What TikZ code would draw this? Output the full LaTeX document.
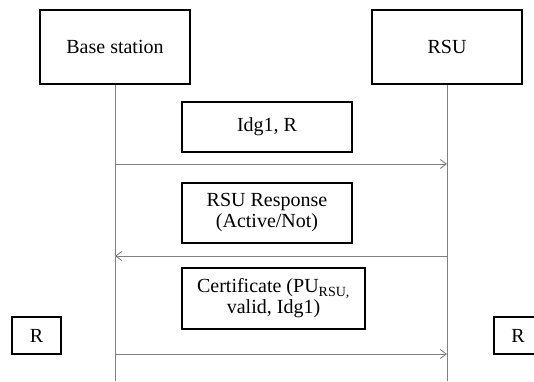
\documentclass[tikz,border=0pt]{standalone}
\usepackage{fontspec}
\setmainfont{Liberation Serif}
\usetikzlibrary{arrows.meta}
\begin{document}
\begin{tikzpicture}[x=1pt,y=-1pt,
  box/.style={draw=black, line width=2pt, fill=white, align=center, inner sep=0pt,
    font=\fontsize{20}{21}\selectfont},
  life/.style={draw=black!50, line width=1pt},
  msg/.style={draw=black!50, line width=1pt, -{Straight Barb[length=6pt,width=9pt,line width=0.9pt]}}]
\useasboundingbox (0,0) rectangle (534,381);
\node[box, minimum width=150pt, minimum height=74pt] (bs) at (115,47) {Base station};
\node[box, minimum width=150pt, minimum height=74pt] (rsu) at (447,47) {RSU};
\coordinate (bsend) at (115,381);
\coordinate (rsuend) at (447,381);
\draw[life] (bs.south) -- (bsend);
\draw[life] (rsu.south) -- (rsuend);
\node[box, minimum width=170pt, minimum height=50pt] (m1) at (267,127) {Idg1, R};
\node[box, minimum width=170pt, minimum height=60pt] (m2) at (267,213) {RSU Response\\(Active/Not)};
\node[box, minimum width=183pt, minimum height=61pt] (m3) at (273.5,298.5) {Certificate (PU\textsubscript{RSU,}\\valid, Idg1)};
\node[box, minimum width=49pt, minimum height=37pt] (rl) at (36.5,335.5) {R};
\node[box, minimum width=48pt, minimum height=37pt] (rr) at (518,335.5) {R};
\coordinate (a1s) at (115,164);
\coordinate (a1e) at (447,164);
\coordinate (a2s) at (447,256);
\coordinate (a2e) at (115,256);
\coordinate (a3s) at (115,354);
\coordinate (a3e) at (447,354);
\draw[msg] (a1s) -- (a1e);
\draw[msg] (a2s) -- (a2e);
\draw[msg] (a3s) -- (a3e);
\end{tikzpicture}
\end{document}
